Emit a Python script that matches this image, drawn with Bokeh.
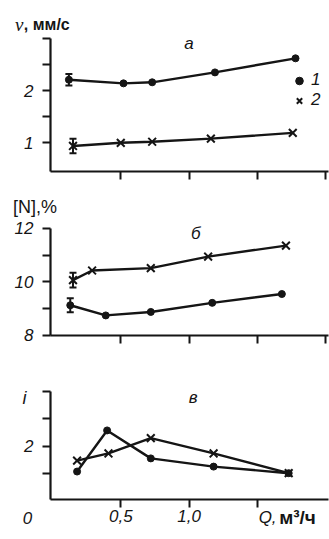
from bokeh.plotting import figure
from bokeh.layouts import column
from bokeh.models import (Range1d, FixedTicker, Label, Legend, LegendItem,
                          Whisker, TeeHead, ColumnDataSource)
from bokeh.embed import file_html
from bokeh.resources import INLINE

# ---------------- data ----------------
# panel а : velocity v, мм/с
a_q1 = [0.12, 0.52, 0.73, 1.19, 1.78]
a_v1 = [2.21, 2.14, 2.16, 2.35, 2.62]
a_q2 = [0.15, 0.50, 0.73, 1.16, 1.76]
a_v2 = [0.94, 1.00, 1.02, 1.08, 1.19]
a_err1 = 0.11
a_err2 = 0.14

# panel б : [N], %
b_q1 = [0.13, 0.39, 0.72, 1.17, 1.68]
b_n1 = [9.13, 8.75, 8.88, 9.22, 9.55]
b_q2 = [0.15, 0.29, 0.72, 1.14, 1.71]
b_n2 = [10.07, 10.43, 10.52, 10.95, 11.36]
b_err1 = 0.26
b_err2 = 0.28

# panel в : i
c_q1 = [0.18, 0.40, 0.72, 1.18, 1.73]
c_i1 = [1.54, 2.29, 1.78, 1.63, 1.51]
c_q2 = [0.18, 0.41, 0.72, 1.18, 1.73]
c_i2 = [1.74, 1.87, 2.15, 1.87, 1.51]

x_ticks = [0.5, 1.0, 1.5, 2.0]
x_ticks_c = [0.5, 1.0, 1.5]
x_labels_c = {0.5: "0,5", 1.0: "1,0", 1.5: ""}

a_ticks = [1, 1.5, 2, 2.5, 3]
a_labels = {1: "1", 1.5: "", 2: "2", 2.5: "", 3: ""}
b_ticks = [8, 9, 10, 11, 12]
b_labels = {8: "8", 9: "", 10: "10", 11: "", 12: "12"}
c_ticks = [1.5, 2, 2.5, 3]
c_labels = {1.5: "", 2: "2", 2.5: "", 3: ""}

Q_MIN, Q_MAX = -0.015, 2.02          # extent of the drawn Q axis
A_Y = (0.45, 3.0)
B_Y = (8.0, 12.0)
C_Y = (1.03, 3.0)

INK = "#151515"
TICK_FONT = "Liberation Sans"


def make_fig(height, view_y, axis_y, yticks, ylabels, xticks, xlabels):
    p = figure(width=329, height=height, output_backend="svg", toolbar_location=None,
               x_range=Range1d(-0.381, 2.029), y_range=Range1d(*view_y),
               min_border=0, background_fill_color="white", border_fill_color="white")
    p.outline_line_color = None
    p.grid.visible = False
    for ax in (p.xaxis[0], p.yaxis[0]):
        ax.axis_line_width = 2.2
        ax.axis_line_color = INK
        ax.major_tick_line_width = 2
        ax.major_tick_line_color = INK
        ax.major_tick_out = 8
        ax.major_tick_in = 0
        ax.minor_tick_line_color = None
        ax.major_label_text_font = TICK_FONT
        ax.major_label_text_font_style = "italic"
        ax.major_label_text_font_size = "17px"
        ax.major_label_text_color = INK
    ya = p.yaxis[0]
    ya.ticker = FixedTicker(ticks=yticks)
    ya.major_label_overrides = ylabels
    ya.major_label_standoff = 9
    ya.fixed_location = Q_MIN
    ya.bounds = axis_y
    xa = p.xaxis[0]
    xa.ticker = FixedTicker(ticks=xticks)
    xa.major_label_overrides = xlabels
    xa.major_label_standoff = 3
    xa.fixed_location = axis_y[0]
    xa.bounds = (Q_MIN, Q_MAX)
    return p


def series(p, q, y, marker):
    p.line(q, y, line_width=2.4, line_color=INK)
    if marker == "dot":
        return p.scatter(q, y, marker="circle", size=7, fill_color=INK, line_color=INK)
    return p.scatter(q, y, marker="x", size=11, line_color=INK, line_width=2)


def errbar(p, q, y, err):
    src = ColumnDataSource(dict(base=[q], upper=[y + err], lower=[y - err]))
    w = Whisker(base="base", upper="upper", lower="lower", source=src,
                line_width=2, line_color=INK,
                upper_head=TeeHead(size=7, line_width=2, line_color=INK),
                lower_head=TeeHead(size=7, line_width=2, line_color=INK))
    p.add_layout(w)


def label(p, x, y, text, size="17px", style="italic", font=TICK_FONT,
          align="center", baseline="middle"):
    p.add_layout(Label(x=x, y=y, text=text, text_font=font, text_font_size=size,
                       text_font_style=style, text_color=INK,
                       text_align=align, text_baseline=baseline))


# ---------------- panel а ----------------
pa = make_fig(183, (0.22, 3.7285), A_Y, a_ticks, a_labels, x_ticks,
              {t: "" for t in x_ticks})
ra1 = series(pa, a_q1, a_v1, "dot")
ra2 = series(pa, a_q2, a_v2, "x")
errbar(pa, a_q1[0], a_v1[0], a_err1)
errbar(pa, a_q2[0], a_v2[0], a_err2)
label(pa, -0.275, 3.26, "v", size="19px", font="Liberation Serif", align="left",
      baseline="alphabetic")
label(pa, -0.21, 3.26, ", мм/с", size="16px", style="bold", font="Liberation Sans",
      align="left", baseline="alphabetic")
label(pa, 1.0, 2.90, "а")
leg = Legend(items=[LegendItem(label="1", renderers=[ra1]),
                    LegendItem(label="2", renderers=[ra2])],
             location=(289, 73), orientation="vertical",
             glyph_width=20, glyph_height=19, label_height=19, label_standoff=2,
             padding=0, margin=0, spacing=0,
             border_line_color=None, background_fill_alpha=0,
             label_text_font=TICK_FONT, label_text_font_style="italic",
             label_text_font_size="17px", label_text_color=INK)
pa.add_layout(leg, "center")

# ---------------- panel б ----------------
pb = make_fig(164, (7.551, 13.682), B_Y, b_ticks, b_labels, x_ticks,
              {t: "" for t in x_ticks})
series(pb, b_q1, b_n1, "dot")
series(pb, b_q2, b_n2, "x")
errbar(pb, b_q1[0], b_n1[0], b_err1)
errbar(pb, b_q2[0], b_n2[0], b_err2)
label(pb, -0.29, 12.80, "[N],%", size="18px", style="normal", align="left")
label(pb, 1.05, 11.81, "б")

# ---------------- panel в ----------------
pc = make_fig(192, (0.300, 3.803), C_Y, c_ticks, c_labels, x_ticks_c, x_labels_c)
series(pc, c_q1, c_i1, "dot")
series(pc, c_q2, c_i2, "x")
label(pc, 1.03, 2.89, "в")
label(pc, -0.205, 2.89, "i", size="18px")
label(pc, -0.183, 0.70, "0")
label(pc, 1.51, 0.70, "Q,", align="left")
label(pc, 1.66, 0.70, "м³/ч", size="19px", style="bold", font="Liberation Sans",
      align="left")

layout = column(pa, pb, pc, spacing=0)
open("out.html", "w").write(file_html(layout, INLINE))
